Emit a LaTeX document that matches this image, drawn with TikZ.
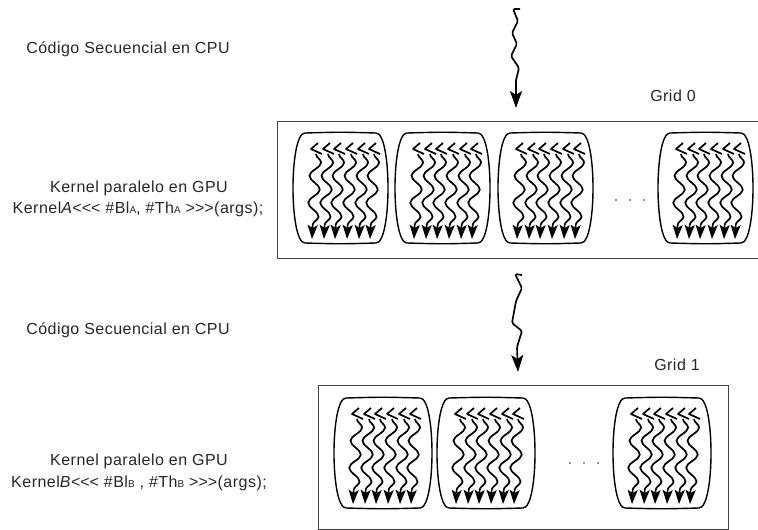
\documentclass[tikz,border=0pt]{standalone}
\usepackage{fontspec}
\setmainfont{Liberation Sans}[LetterSpace=3]
\usetikzlibrary{decorations.pathmorphing, arrows.meta}
\tikzset{
  lbl/.style={font=\fontsize{16}{18}\selectfont, inner sep=0pt, anchor=base, text=black!85},
  gridbox/.style={draw=black!75, line width=1pt},
  blk/.style={draw=black, line width=1.4pt},
  thr/.style={draw=black, line width=1.7pt, line join=round},
  thrw/.style={thr, decorate, decoration={snake, amplitude=5.5pt, segment length=27pt, post length=10pt},
     -{Stealth[length=14pt,width=10pt,inset=3pt]}},
  bigarrow/.style={draw=black, line width=1.7pt, line join=round, rounded corners=1.5pt,
     -{Stealth[length=17pt,width=12pt,inset=4pt]}},
  dotf/.style={fill=black!55}
}
\newcommand{\threadblock}[3]{%
\begin{scope}[shift={(#1,#2)}]
  \pgfmathsetmacro\wB{#3}
  \draw[blk] (12,0) .. controls ({\wB/2},-1) .. ({\wB-12},0) .. controls ({\wB+4},0) and ({\wB+4},110) .. ({\wB-12},110)
     .. controls ({\wB/2},111) .. (12,110) .. controls (-4,110) and (-4,0) .. cycle;
  \foreach \t in {17,29,40,52,64,75} {
    \draw[thr] (\t+8,10) -- (\t+1,16) -- (\t+12,21);
    \draw[thrw] (\t+6,21) -- (\t+2,106);
  }
\end{scope}}
\newcommand{\sbs}[1]{{\fontsize{10}{12}\selectfont #1}}
\newcommand{\lll}{<\kern0pt<\kern0pt<}
\newcommand{\ggg}{>\kern0pt>\kern0pt>}
\begin{document}
\begin{tikzpicture}[x=1pt,y=-1pt]
\useasboundingbox (0,0) rectangle (758,530);
% left labels
\node[lbl] (cpu0) at (128,53) {Código Secuencial en CPU};
\node[lbl] (gpuA) at (139,192) {Kernel paralelo en GPU};
\node[lbl] (callA) at (138,213) {Kernel\textit{A}\lll\ \#Bl\sbs{A}, \#Th\sbs{A} \ggg(args);};
\node[lbl] (cpu1) at (128,334) {Código Secuencial en CPU};
\node[lbl] (gpuB) at (139,465) {Kernel paralelo en GPU};
\node[lbl] (callB) at (139,487) {Kernel\textit{B}\lll\ \#Bl\sbs{B} , \#Th\sbs{B} \ggg(args);};
% grid labels
\node[lbl] (g0) at (673,101) {Grid 0};
\node[lbl] (g1) at (677,370) {Grid 1};
% grid boxes
\draw[gridbox] (277,121) rectangle (764,258);
\draw[gridbox] (318,385) rectangle (728,529);
% blocks grid 0
\threadblock{293}{133}{95}
\threadblock{395}{133}{95}
\threadblock{498}{133}{95}
\threadblock{658}{133}{95}
\fill[dotf] (616,200) circle (1.1pt) (630,200) circle (1.1pt) (644,200) circle (1.1pt);
% blocks grid 1
\threadblock{334}{398}{98}
\threadblock{437}{398}{98}
\threadblock{613}{398}{98}
\fill[dotf] (570,463) circle (1.1pt) (584,463) circle (1.1pt) (598,463) circle (1.1pt);
% wavy arrows
\coordinate (s0) at (520,9);
\coordinate (e0) at (516,108);
\draw[bigarrow] (s0) -- (513,9) -- (518,21) -- (512,33) -- (517,44) -- (511,56) -- (519,68) -- (516,80) -- (e0);
\coordinate (s1) at (522,275);
\coordinate (e1) at (518,372);
\draw[bigarrow] (s1) -- (515,274) -- (522,288) -- (516,301) -- (512,323) -- (522,331) -- (517,347) -- (e1);
\end{tikzpicture}
\end{document}
